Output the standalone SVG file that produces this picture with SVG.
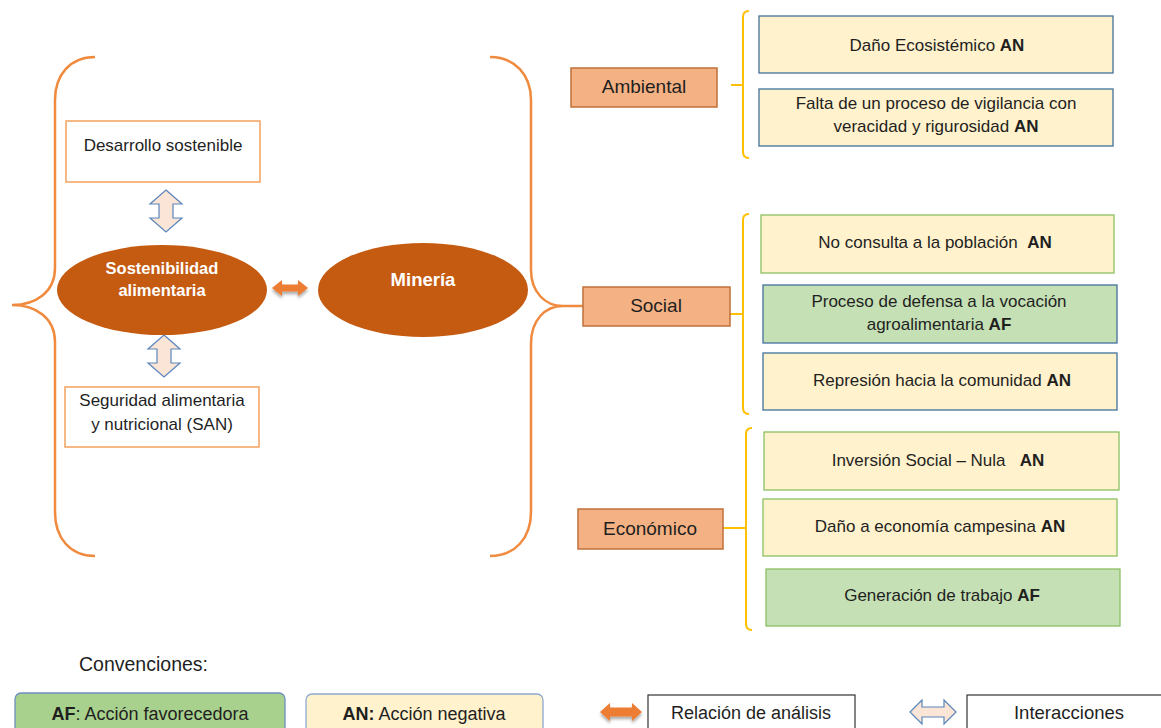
<svg xmlns="http://www.w3.org/2000/svg" width="1161" height="728" viewBox="0 0 1161 728">
<style>
text{font-family:"Liberation Sans",Arial,sans-serif;fill:#1f1f1f;font-size:17px;text-anchor:middle}
.b{font-weight:bold}
.ell{fill:#c55a11}
.et{fill:#ffffff;font-weight:bold;font-size:16.5px}
.wbox{fill:#ffffff;stroke:#f4a15c;stroke-width:1.5}
.cat{fill:#f4b183;stroke:#c0703a;stroke-width:1.5}
.cat-t{font-size:19px}
.an{fill:#fff2cc}
.af{fill:#c5e0b4}
.sb{stroke:#41719c;stroke-width:1.3}
.sg{stroke:#8cc063;stroke-width:1.3}
.brace{fill:none;stroke:#f08a3e;stroke-width:2.5}
.ybrace{fill:none;stroke:#ffc000;stroke-width:2}
.ia{fill:#fbe5d6;stroke:#5b86bd;stroke-width:1.2}
.oa{fill:#ed7d31;filter:url(#sh)}
.lg{font-size:18px}
</style>
<defs>
<filter id="sh" x="-30%" y="-30%" width="160%" height="180%">
<feDropShadow dx="0" dy="2.5" stdDeviation="1.5" flood-color="#000" flood-opacity="0.35"/>
</filter>
</defs>
<rect width="1161" height="728" fill="#ffffff"/>

<g id="connectors">
<path class="brace" d="M95,57 C70,57 55,75 55,100 L55,268 C55,292 36,305 12,305 C36,305 55,318 55,342 L55,512 C55,538 70,556 95,556"/>
<path class="brace" d="M490,57 C515,57 531,75 531,100 L531,270 C531,292 545,306 563,306 L583,306 M563,306 C545,306 531,320 531,344 L531,512 C531,538 515,556 490,556"/>
<path class="ybrace" d="M749,11 Q743,11 743,17 L743,152 Q743,158 749,158 M731,85 L743,85"/>
<path class="ybrace" d="M749,214 Q743,214 743,220 L743,408 Q743,414 749,414 M730,314 L743,314"/>
<path class="ybrace" d="M752,428 Q746,428 746,434 L746,624 Q746,630 752,630 M723,528 L746,528"/>
<path class="ia" d="M166,190 L182,204 L173,204 L173,218 L182,218 L166,232 L150,218 L159,218 L159,204 L150,204 Z"/>
<path class="ia" d="M164,335 L180,349 L171,349 L171,363 L180,363 L164,377 L148,363 L157,363 L157,349 L148,349 Z"/>
<path class="oa" d="M272,288 L282,280 L282,284.5 L298,284.5 L298,280 L308,288 L298,296 L298,291.5 L282,291.5 L282,296 Z"/>
</g>

<g id="n-desarrollo">
<rect class="wbox" x="66" y="121" width="194" height="61"/>
<text x="163" y="151">Desarrollo sostenible</text>
</g>
<g id="n-sostenibilidad">
<ellipse class="ell" cx="162" cy="290" rx="105" ry="45"/>
<text class="et" x="162" y="274">Sostenibilidad</text>
<text class="et" x="162" y="296">alimentaria</text>
</g>
<g id="n-mineria">
<ellipse class="ell" cx="423" cy="290" rx="105" ry="47"/>
<text class="et" x="423" y="286" style="font-size:18.5px">Minería</text>
</g>
<g id="n-seguridad">
<rect class="wbox" x="65" y="387" width="194" height="60"/>
<text x="162" y="406">Seguridad alimentaria</text>
<text x="162" y="430">y nutricional (SAN)</text>
</g>

<g id="n-ambiental">
<rect class="cat" x="571" y="68" width="146" height="39"/>
<text class="cat-t" x="644" y="93">Ambiental</text>
</g>
<g id="n-social">
<rect class="cat" x="583" y="287" width="147" height="39"/>
<text class="cat-t" x="656" y="312">Social</text>
</g>
<g id="n-economico">
<rect class="cat" x="578" y="509" width="145" height="40"/>
<text class="cat-t" x="650" y="535">Económico</text>
</g>

<g id="n-dano-eco">
<rect class="an sb" x="759" y="16" width="354" height="57"/>
<text x="937" y="51">Daño Ecosistémico <tspan class="b">AN</tspan></text>
</g>
<g id="n-falta">
<rect class="an sb" x="759" y="89" width="354" height="57"/>
<text x="936" y="109">Falta de un proceso de vigilancia con</text>
<text x="936" y="132">veracidad y rigurosidad <tspan class="b">AN</tspan></text>
</g>
<g id="n-no-consulta">
<rect class="an sg" x="761" y="215" width="353" height="58"/>
<text x="935" y="248">No consulta a la población&#160; <tspan class="b">AN</tspan></text>
</g>
<g id="n-proceso">
<rect class="af sb" x="763" y="285" width="354" height="58"/>
<text x="939" y="307">Proceso de defensa a la vocación</text>
<text x="939" y="330">agroalimentaria <tspan class="b">AF</tspan></text>
</g>
<g id="n-represion">
<rect class="an sb" x="763" y="353" width="354" height="57"/>
<text x="942" y="386">Represión hacia la comunidad <tspan class="b">AN</tspan></text>
</g>
<g id="n-inversion">
<rect class="an sg" x="764" y="432" width="355" height="58"/>
<text x="938" y="466">Inversión Social – Nula&#160;&#160; <tspan class="b">AN</tspan></text>
</g>
<g id="n-dano-campesina">
<rect class="an sg" x="763" y="499" width="354" height="57"/>
<text x="940" y="532">Daño a economía campesina <tspan class="b">AN</tspan></text>
</g>
<g id="n-generacion">
<rect class="af sg" x="766" y="569" width="354" height="57"/>
<text x="942" y="601">Generación de trabajo <tspan class="b">AF</tspan></text>
</g>

<g id="legend">
<text x="79" y="671" style="text-anchor:start;font-size:19.5px">Convenciones:</text>
<rect x="15" y="693" width="270" height="45" rx="6" fill="#a9d18e" stroke="#6d8fc0" stroke-width="1.3"/>
<text class="lg" x="150" y="720"><tspan class="b">AF</tspan>: Acción favorecedora</text>
<rect x="306" y="694" width="237" height="45" rx="6" fill="#fff2cc" stroke="#8ea9cf" stroke-width="1.3"/>
<text class="lg" x="424" y="720"><tspan class="b">AN:</tspan> Acción negativa</text>
<path class="oa" d="M600,712 L610,703 L610,707.5 L632,707.5 L632,703 L642,712 L632,721 L632,716.5 L610,716.5 L610,721 Z"/>
<rect x="648" y="695" width="207" height="45" fill="#ffffff" stroke="#333333" stroke-width="1.2"/>
<text class="lg" x="751" y="719">Relación de análisis</text>
<path class="ia" d="M910,712 L922,700 L922,707 L944,707 L944,700 L956,712 L944,724 L944,717 L922,717 L922,724 Z"/>
<rect x="967" y="695" width="200" height="45" fill="#ffffff" stroke="#333333" stroke-width="1.2"/>
<text class="lg" x="1069" y="719" style="font-size:18.5px">Interacciones</text>
</g>
</svg>
